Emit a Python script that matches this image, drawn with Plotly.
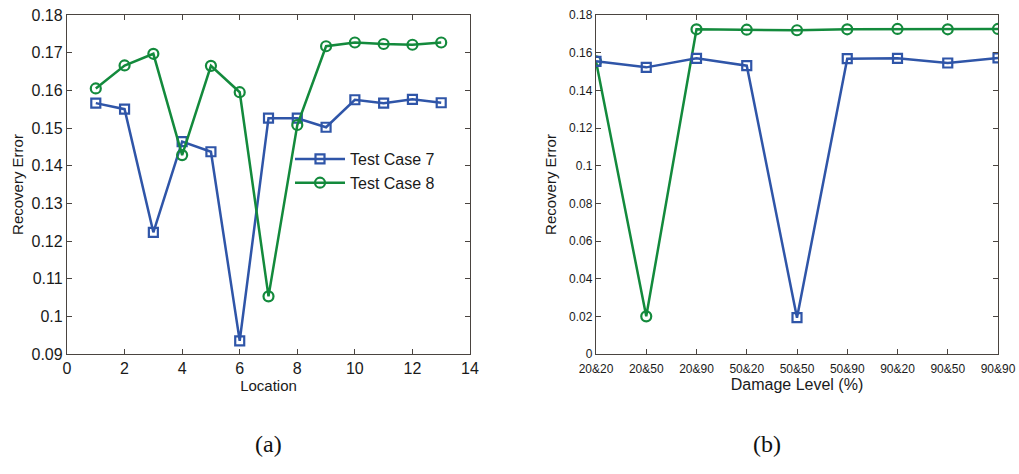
import plotly.graph_objects as go
from plotly.subplots import make_subplots

# (a) recovery error per damage location
locations = list(range(1, 14))
case7_loc = [0.1566, 0.1550, 0.1223, 0.1464, 0.1437, 0.0935, 0.1526,
             0.1526, 0.1502, 0.1575, 0.1566, 0.1576, 0.1567]
case8_loc = [0.1605, 0.1666, 0.1697, 0.1428, 0.1665, 0.1595, 0.1053,
             0.1508, 0.1717, 0.1727, 0.1723, 0.1721, 0.1727]

# (b) recovery error per damage level pair
levels = ["20&20", "20&50", "20&90", "50&20", "50&50", "50&90",
          "90&20", "90&50", "90&90"]
case7_lvl = [0.1554, 0.1522, 0.1570, 0.1531, 0.0193, 0.1568, 0.1570,
             0.1545, 0.1572]
case8_lvl = [0.1554, 0.0200, 0.1724, 0.1722, 0.1719, 0.1724, 0.1726,
             0.1724, 0.1726]

BLUE = "#2f55a8"
GREEN = "#138a3c"
AXIS = "#4a4440"
FONT = "Liberation Sans"
W, H = 1019, 474

fig = make_subplots(rows=1, cols=2)

line_kw = dict(width=2.5)
fig.add_trace(go.Scatter(x=locations, y=case7_loc, mode="lines+markers",
                         name="Test Case 7", line=dict(color=BLUE, **line_kw),
                         marker=dict(symbol="square-open", size=9,
                                     color=BLUE, line=dict(width=2.2))),
              row=1, col=1)
fig.add_trace(go.Scatter(x=locations, y=case8_loc, mode="lines+markers",
                         name="Test Case 8", line=dict(color=GREEN, **line_kw),
                         marker=dict(symbol="circle-open", size=10,
                                     color=GREEN, line=dict(width=2.2))),
              row=1, col=1)
fig.add_trace(go.Scatter(x=levels, y=case8_lvl, mode="lines+markers",
                         showlegend=False, line=dict(color=GREEN, **line_kw),
                         marker=dict(symbol="circle-open", size=10,
                                     color=GREEN, line=dict(width=2.2))),
              row=1, col=2)
fig.add_trace(go.Scatter(x=levels, y=case7_lvl, mode="lines+markers",
                         showlegend=False, line=dict(color=BLUE, **line_kw),
                         marker=dict(symbol="square-open", size=9,
                                     color=BLUE, line=dict(width=2.2))),
              row=1, col=2)

y_dom = [1 - 354 / H, 1 - 15 / H]
common = dict(showline=True, linecolor=AXIS, linewidth=1.3, mirror="ticks",
              ticks="inside", ticklen=5, tickcolor=AXIS, showgrid=False,
              zeroline=False, automargin=False)

fig.update_xaxes(domain=[67 / W, 470 / W], range=[0, 14], dtick=2,
                 tickfont=dict(size=16, color="#1a1a1a"),
                 title=dict(text="Location", font=dict(size=15), standoff=3),
                 **common, row=1, col=1)
fig.update_yaxes(domain=y_dom, range=[0.09, 0.18], dtick=0.01,
                 tickfont=dict(size=16, color="#1a1a1a"),
                 title=dict(text="Recovery Error", font=dict(size=15),
                            standoff=4),
                 **common, row=1, col=1)
fig.update_xaxes(domain=[596 / W, 998 / W], type="category",
                 range=[0, 8], ticklabelstandoff=3,
                 tickfont=dict(size=12, color="#1a1a1a"),
                 title=dict(text="Damage Level (%)", font=dict(size=16),
                            standoff=1),
                 **common, row=1, col=2)
fig.update_yaxes(domain=y_dom, range=[0, 0.18], dtick=0.02,
                 tickfont=dict(size=12, color="#1a1a1a"),
                 title=dict(text="Recovery Error", font=dict(size=15),
                            standoff=8),
                 **common, row=1, col=2)

fig.add_annotation(text="(a)", x=253 / W, y=1 - 459 / H, xref="paper",
                   yref="paper", showarrow=False,
                   font=dict(family="Liberation Serif", size=24,
                             color="#111"))
fig.add_annotation(text="(b)", x=783 / W, y=1 - 459 / H, xref="paper",
                   yref="paper", showarrow=False,
                   font=dict(family="Liberation Serif", size=24,
                             color="#111"))

fig.update_layout(
    width=W, height=H, margin=dict(l=0, r=0, t=0, b=0),
    paper_bgcolor="white", plot_bgcolor="white",
    font=dict(family=FONT, color="#1a1a1a"),
    legend=dict(x=290 / W, y=1 - 142 / H, xanchor="left", yanchor="top",
                bgcolor="rgba(0,0,0,0)", font=dict(size=16),
                tracegroupgap=0, itemwidth=50),
)

fig.write_html("out.html")
